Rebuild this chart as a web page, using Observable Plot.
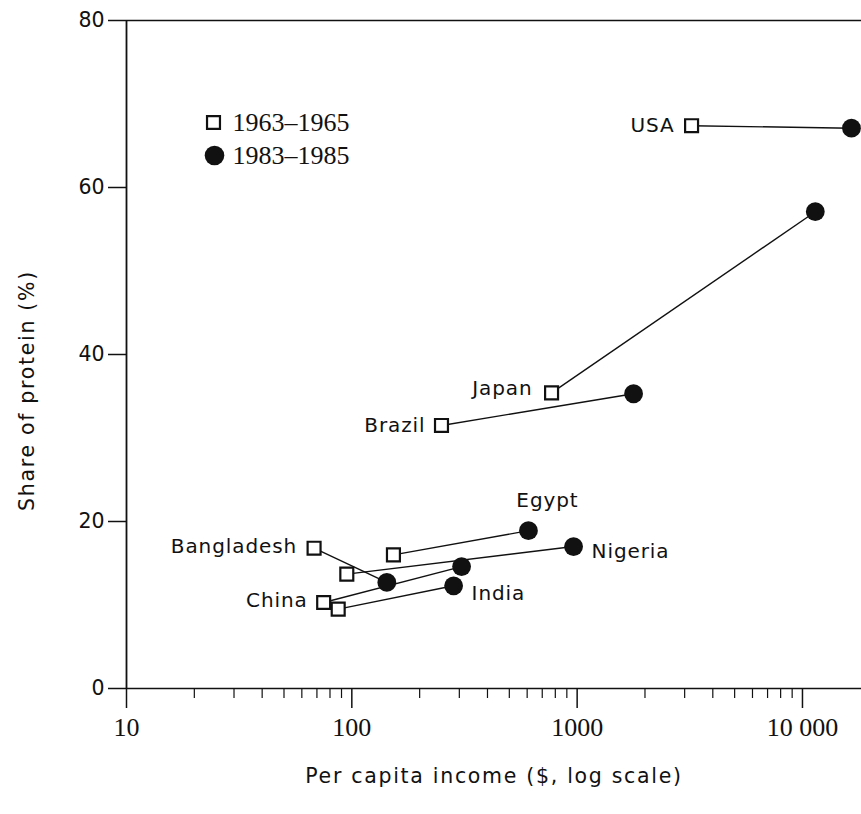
<!DOCTYPE html>
<html><head><meta charset="utf-8">
<script src="https://cdn.jsdelivr.net/npm/d3@7"></script>
<script src="https://cdn.jsdelivr.net/npm/@observablehq/plot@0.6"></script>
<style>
html,body{margin:0;padding:0;background:#fff}
g[font-family="DejaVu Sans, Lato"] text{letter-spacing:0.9px}
g[font-family="DejaVu Sans, Roboto"] text{letter-spacing:1.7px}
</style>
</head><body><div id="chart"></div>
<script>
// ---- data ----
const countries   = ["USA", "Japan", "Brazil", "Egypt", "Nigeria", "Bangladesh", "China", "India"];
const income1963  = [3220, 770, 250, 153, 95, 68, 75, 87];
const protein1963 = [67.4, 35.4, 31.5, 16.0, 13.7, 16.8, 10.3, 9.5];
const income1983  = [16500, 11400, 1780, 608, 964, 143, 307, 283];
const protein1983 = [67.1, 57.1, 35.3, 18.9, 17.0, 12.7, 14.6, 12.3];
const periods     = ["1963\u20131965", "1983\u20131985"];
const xTicks      = [10, 100, 1000, 10000];
const xTickLabels = ["10", "100", "1000", "10 000"];
const xMinorTicks = [20,30,40,50,60,70,80,90,200,300,400,500,600,700,800,900,2000,3000,4000,5000,6000,7000,8000,9000];
const yTicks      = [0, 20, 40, 60, 80];
const xTitle = "Per capita income ($, log scale)";
const yTitle = "Share of protein (%)";

const rows = countries.map((c, i) => ({country: c, x0: income1963[i], y0: protein1963[i], x1: income1983[i], y1: protein1983[i]}));
const byName = n => rows.filter(r => r.country === n);

const TICK_FONT = "DejaVu Sans";
const LABEL_FONT = "DejaVu Sans, Lato";
const TITLE_FONT = "DejaVu Sans, Roboto";
const SERIF = "Liberation Serif";
const INK = "#111";

function labelStart(name, dx, dy) {
  return Plot.text(byName(name), {x: "x0", y: "y0", text: "country", textAnchor: "end", lineAnchor: "middle", dx, dy, fontFamily: LABEL_FONT, fontSize: 20, fill: INK});
}
function labelEnd(name, dx, dy, anchor = "start") {
  return Plot.text(byName(name), {x: "x1", y: "y1", text: "country", textAnchor: anchor, lineAnchor: "middle", dx, dy, fontFamily: LABEL_FONT, fontSize: 20, fill: INK});
}

const chart = Plot.plot({
  width: 861, height: 814,
  marginLeft: 126, marginRight: 0, marginTop: 20, marginBottom: 126,
  style: {background: "#fff", color: INK},
  x: {type: "log", domain: [10, 18280]},
  y: {domain: [0, 80]},
  marks: [
    Plot.ruleY([0, 80], {stroke: INK, strokeWidth: 1.6}),
    Plot.ruleX([10], {stroke: INK, strokeWidth: 1.8}),
    Plot.axisY({ticks: yTicks, tickSize: 18, tickPadding: 4, tickFormat: d => String(d), fontFamily: TICK_FONT, fontSize: 20.5, strokeWidth: 1.5, label: null}),
    Plot.axisX({ticks: xTicks, tickSize: 20, tickPadding: 9, tickFormat: d => xTickLabels[xTicks.indexOf(d)], fontFamily: SERIF, fontSize: 26, strokeWidth: 1.5, label: null}),
    Plot.axisX({ticks: xMinorTicks, tickSize: 10, tickFormat: () => "", strokeWidth: 1.2, label: null}),
    Plot.link(rows, {x1: "x0", y1: "y0", x2: "x1", y2: "y1", stroke: INK, strokeWidth: 1.4}),
    Plot.dot(rows, {x: "x0", y: "y0", symbol: "square", r: 7.3, fill: "#fff", stroke: INK, strokeWidth: 2.2}),
    Plot.dot(rows, {x: "x1", y: "y1", r: 9.4, fill: INK, stroke: "none"}),
    labelStart("USA", -17, 0),
    labelStart("Japan", -19, -4),
    labelStart("Brazil", -16, 0),
    labelStart("Bangladesh", -17, -2),
    labelStart("China", -16, -2),
    labelEnd("Egypt", 19, -30, "middle"),
    labelEnd("Nigeria", 18, 5),
    labelEnd("India", 18, 8),
    // legend
    Plot.dot([periods[0]], {x: null, y: null, frameAnchor: "top-left", dx: 87, dy: 102, symbol: "square", r: 7.3, fill: "#fff", stroke: INK, strokeWidth: 2.2}),
    Plot.dot([periods[1]], {x: null, y: null, frameAnchor: "top-left", dx: 88, dy: 135, r: 9.8, fill: INK, stroke: "none"}),
    Plot.text([periods[0]], {x: null, y: null, frameAnchor: "top-left", text: d => d, dx: 106, dy: 102, textAnchor: "start", lineAnchor: "middle", fontFamily: SERIF, fontSize: 26, fill: INK}),
    Plot.text([periods[1]], {x: null, y: null, frameAnchor: "top-left", text: d => d, dx: 106, dy: 135, textAnchor: "start", lineAnchor: "middle", fontFamily: SERIF, fontSize: 26, fill: INK}),
    // axis titles
    Plot.text([xTitle], {x: null, y: null, frameAnchor: "bottom", text: d => d, dy: 88, textAnchor: "middle", lineAnchor: "middle", fontFamily: TITLE_FONT, fontSize: 20.5, fill: INK}),
    Plot.text([yTitle], {x: null, y: null, frameAnchor: "left", text: d => d, rotate: -90, dx: -99, dy: 36, textAnchor: "middle", lineAnchor: "middle", fontFamily: TITLE_FONT, fontSize: 20.5, fill: INK})
  ]
});
document.getElementById("chart").appendChild(chart);
</script>
</body></html>
